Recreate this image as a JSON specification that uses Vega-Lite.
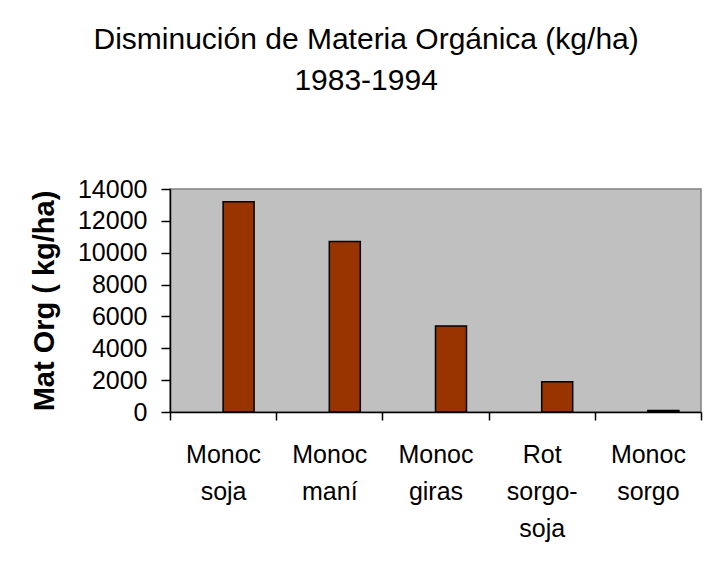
{
  "$schema": "https://vega.github.io/schema/vega-lite/v6.json",
  "autosize": {"type": "none"},
  "padding": {"left": 170, "top": 189, "right": 7, "bottom": 165},
  "width": 531,
  "height": 223,
  "background": "white",
  "title": {
    "text": ["Disminución de Materia Orgánica (kg/ha)", "1983-1994"],
    "font": "Liberation Sans",
    "fontSize": 30,
    "fontWeight": "normal",
    "lineHeight": 41,
    "frame": "bounds",
    "anchor": "middle",
    "offset": 81,
    "color": "black"
  },
  "data": {
    "values": [
      {"cultivo": "Monoc soja", "mo": 13200},
      {"cultivo": "Monoc maní", "mo": 10700},
      {"cultivo": "Monoc giras", "mo": 5400},
      {"cultivo": "Rot sorgo-soja", "mo": 1900},
      {"cultivo": "Monoc sorgo", "mo": 100}
    ]
  },
  "mark": {"type": "bar", "fill": "#993300", "stroke": "black", "strokeWidth": 1.5, "width": 31, "xOffset": 15.5},
  "encoding": {
    "x": {
      "field": "cultivo",
      "type": "nominal",
      "sort": null,
      "scale": {"paddingInner": 0, "paddingOuter": 0},
      "axis": {
        "title": null,
        "ticks": true,
        "tickBand": "extent",
        "tickSize": 8,
        "tickWidth": 1.5,
        "tickColor": "black",
        "domainColor": "black",
        "domainWidth": 1.5,
        "labelAngle": 0,
        "labelFont": "Liberation Sans",
        "labelFontSize": 25,
        "labelColor": "black",
        "labelPadding": 22,
        "labelLineHeight": 37,
        "labelExpr": "!isValid(datum.value) ? '' : datum.value == 'Rot sorgo-soja' ? ['Rot', 'sorgo-', 'soja'] : split(datum.value, ' ')"
      }
    },
    "y": {
      "field": "mo",
      "type": "quantitative",
      "scale": {"domain": [0, 14000]},
      "axis": {
        "title": "Mat Org ( kg/ha)",
        "titleFont": "Liberation Sans",
        "titleFontSize": 29,
        "titleFontWeight": "bold",
        "titleColor": "black",
        "titlePadding": 18,
        "values": [0, 2000, 4000, 6000, 8000, 10000, 12000, 14000],
        "format": "d",
        "grid": false,
        "tickSize": 9,
        "tickWidth": 1.5,
        "tickColor": "black",
        "domainColor": "black",
        "domainWidth": 1.5,
        "labelPadding": 14,
        "labelFont": "Liberation Sans",
        "labelFontSize": 25,
        "labelColor": "black"
      }
    }
  },
  "config": {
    "view": {"fill": "#C0C0C0", "stroke": "#808080", "strokeWidth": 1.5}
  }
}
